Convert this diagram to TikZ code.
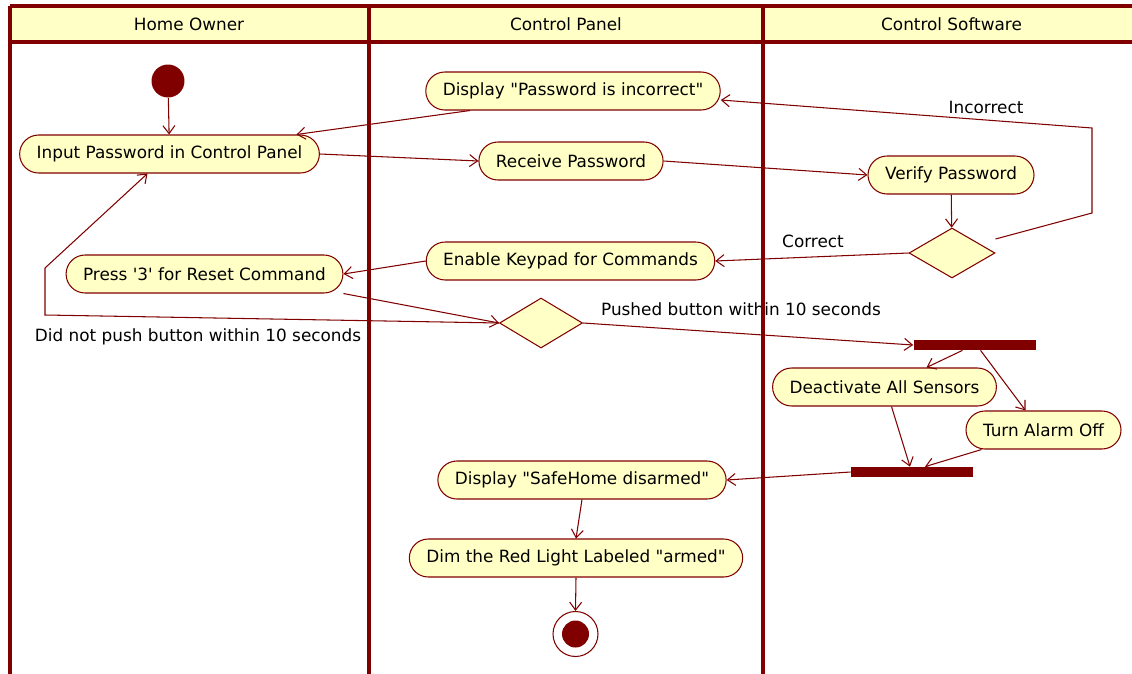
\documentclass[tikz,border=0pt]{standalone}
\usepackage{fontspec}
\setmainfont{DejaVu Sans}
\usetikzlibrary{shapes.geometric,arrows.meta,calc}

\definecolor{umlred}{HTML}{800000}
\definecolor{umlfill}{HTML}{FFFFC6}

\begin{document}
\begin{tikzpicture}[
	x=0.02cm, y=-0.02cm,
	font=\fontsize{9.6}{11}\selectfont,
	action/.style={
		rectangle,
		rounded corners=0.38cm,
		draw=umlred,
		fill=umlfill,
		line width=0.6pt,
		minimum height=0.76cm,
		inner xsep=0.34cm,
		inner ysep=0pt
	},
	decision/.style={diamond, draw=umlred, fill=umlfill, line width=0.6pt,
		inner sep=0pt, minimum width=1.72cm, minimum height=1cm},
	bar/.style={rectangle, fill=umlred, inner sep=0pt,
		minimum width=2.44cm, minimum height=0.2cm},
	flow/.style={-{Straight Barb[length=1.6mm,width=2.4mm]}, draw=umlred, line width=0.6pt},
	lane/.style={draw=umlred, line width=2.6pt},
	guard/.style={inner sep=1pt}
]

\useasboundingbox (0,0) rectangle (1132,673);
\clip (0,0) rectangle (1132,673);

% Cabecera de las calles
\fill[umlfill] (10,6) rectangle (1140,42);
\node (hOwner) at (189,24) {Home Owner};
\node (hPanel) at (566,24) {Control Panel};
\node (hSoft) at (951.5,24) {Control Software};

% Inicio
\node[circle, fill=umlred, minimum size=0.66cm, inner sep=0pt] (start) at (168,81) {};

% Home Owner
\node[action] (input) at (169.5,154) {Input Password in Control Panel};
\node[action] (press) at (204.5,274) {Press \textquotesingle3\textquotesingle{} for Reset Command};

% Control Panel
\node[action] (dispinc) at (573,91) {Display \textquotedbl Password is incorrect\textquotedbl};
\node[action] (receive) at (571,161) {Receive Password};
\node[action] (enable) at (570.5,261) {Enable Keypad for Commands};
\node[decision, minimum width=1.66cm] (dec2) at (541,323) {};
\node[action] (disarm) at (582,480) {Display \textquotedbl SafeHome disarmed\textquotedbl};
\node[action] (dim) at (576,558) {Dim the Red Light Labeled \textquotedbl armed\textquotedbl};

% Control Software
\node[action] (verify) at (951,175) {Verify Password};
\node[decision] (dec1) at (952,253) {};
\node[bar] (fork) at (974.5,345) {};
\node[action] (deact) at (884.5,387) {Deactivate All Sensors};
\node[action] (alarm) at (1043.5,430) {Turn Alarm Off};
\node[bar] (join) at (912,472) {};

% Final
\node[circle, draw=umlred, line width=0.6pt, minimum size=0.9cm, inner sep=0pt] (stop) at (575.5,634) {};
\node[circle, fill=umlred, minimum size=0.54cm, inner sep=0pt] (stopdot) at (stop) {};

% Puntos de quiebre
\coordinate (incA) at (1092,213);
\coordinate (incB) at (1092,128);
\coordinate (retB) at (45,315);
\coordinate (retA) at (45,268);

% Flechas de conexión
\draw[flow] (start) -- (input);
\draw[flow] ($(dispinc.south)+(-103,0)$) -- ($(input.north)+(127,0)$);
\draw[flow] (input.east) -- (receive.west);
\draw[flow] (receive.east) -- (verify.west);
\draw[flow] (verify) -- (dec1);
\draw[flow] ($(dec1.east)+(0,-14)$) -- (incA) -- (incB) -- ($(dispinc.east)+(0,9)$);
\draw[flow] (dec1.west) -- (enable.east);
\draw[flow] (enable.west) -- (press.east);
\draw[flow] (press.south east) -- (dec2.west);
\draw[flow] (dec2.west) -- (retB) -- (retA) -- ($(input.south)+(-22,0)$);
\draw[flow] (dec2.east) -- (fork.west);
\draw[flow] ($(fork.south)+(-12,0)$) -- ($(deact.north)+(42,0)$);
\draw[flow] ($(fork.south)+(6,0)$) -- ($(alarm.north)+(-18,0)$);
\draw[flow] ($(deact.south)+(7,0)$) -- ($(join.north)+(-2,0)$);
\draw[flow] ($(alarm.south)+(-62,0)$) -- ($(join.north)+(13,0)$);
\draw[flow] (join.west) -- (disarm.east);
\draw[flow] (disarm.south) -- (dim.north);
\draw[flow] (dim.south) -- (stop.north);

% Etiquetas de guarda
\node[guard] (lblinc) at (986,107) {Incorrect};
\node[guard] (lblcor) at (813,241) {Correct};
\node[guard] (lblno) at (198,337) {Did not push button within 10 seconds};
\node[guard] (lblyes) at (741,309) {Pushed button within 10 seconds};

% Bordes y divisiones
\draw[umlred, line width=1.8pt] (10,42) -- (1140,42);
\draw[umlred, line width=2pt] (10,6) -- (1140,6);
\draw[umlred, line width=2pt] (10,6) -- (10,680);
\draw[lane] (369,6) -- (369,680);
\draw[lane] (763,6) -- (763,680);
\draw[lane] (1140,6) -- (1140,680);

\end{tikzpicture}
\end{document}
